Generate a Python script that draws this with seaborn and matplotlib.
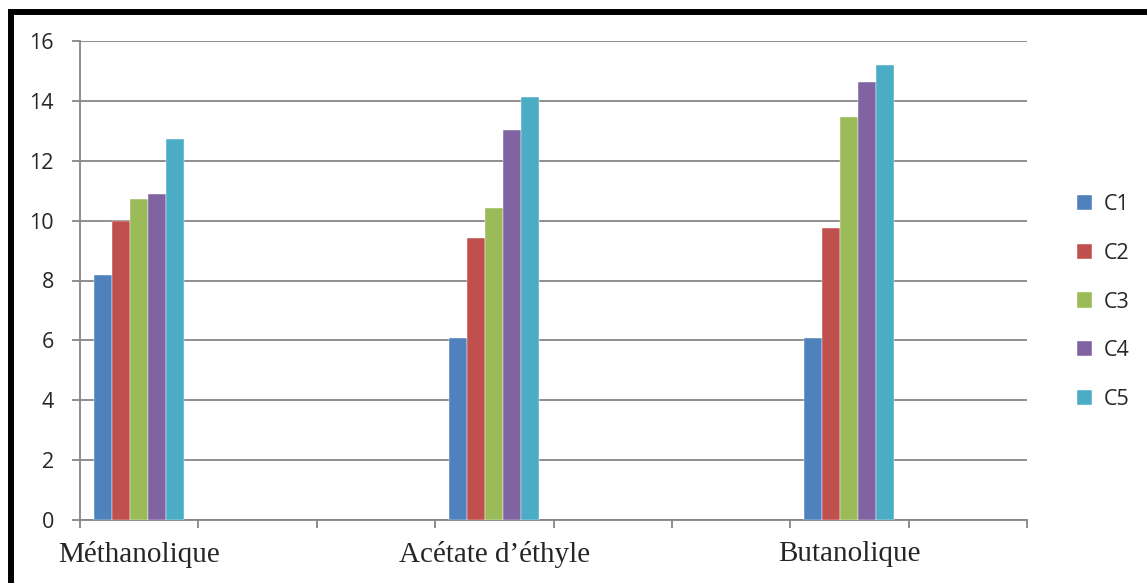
import matplotlib
matplotlib.use("Agg")
import matplotlib.pyplot as plt
from matplotlib.patches import Rectangle
import seaborn as sns
import pandas as pd
import numpy as np

# Extraits (catégories) et concentrations C1..C5
extraits = ["Méthanolique", "Acétate d’éthyle", "Butanolique"]
series = ["C1", "C2", "C3", "C4", "C5"]
methanolique = [8.18, 10.0, 10.72, 10.9, 12.71]
acetate = [6.07, 9.41, 10.41, 13.03, 14.12]
butanolique = [6.08, 9.77, 13.45, 14.64, 15.2]
couleurs = ["#4F81BD", "#C0504D", "#9BBB59", "#8064A2", "#4BACC6"]
yticks = [0, 2, 4, 6, 8, 10, 12, 14, 16]

# Excel-style axis with 8 category slots; the extracts sit in slots 0, 3 and 6
slots = [extraits[0], "_s1", "_s2", extraits[1], "_s4", "_s5", extraits[2], "_s7"]

rows = []
for ext, vals in zip(extraits, [methanolique, acetate, butanolique]):
    for s, v in zip(series, vals):
        rows.append({"extrait": ext, "serie": s, "valeur": v})
df = pd.DataFrame(rows)

sns.set_style("white")
plt.rcParams["font.family"] = ["Open Sans", "DejaVu Sans"]

fig = plt.figure(figsize=(11.47, 5.83), dpi=100)
ax = fig.add_axes([80 / 1147, 63 / 583, 947 / 1147, 479 / 583])

sns.barplot(data=df, x="extrait", y="valeur", hue="serie", order=slots,
            hue_order=series, palette=couleurs, width=0.76, dodge=True,
            errorbar=None, saturation=1, ax=ax, zorder=3,
            edgecolor="#ffffff", linewidth=0.3)

grey = "#868686"
ax.set_xlim(-0.5, len(slots) - 0.5)
ax.set_ylim(0, 16)
ax.set_yticks(yticks)
ax.set_yticklabels([str(t) for t in yticks], fontsize=15.5)
ax.yaxis.grid(True, color=grey, linewidth=1.3, zorder=0)
ax.set_axisbelow(True)
ax.tick_params(axis="y", length=5.8, width=1.3, color=grey, pad=13, left=True)

# slot boundaries as tick marks, extract names centred under their groups
ax.set_xticks(np.arange(-0.5, len(slots), 1.0))
ax.set_xticklabels([])
ax.set_xticks([0, 3, 6], minor=True)
ax.set_xticklabels(extraits, minor=True, fontsize=21,
                   family=["Liberation Serif", "DejaVu Serif"])
ax.tick_params(axis="x", which="major", length=5.8, width=1.3, color=grey,
               bottom=True)
ax.tick_params(axis="x", which="minor", length=0, pad=15, bottom=True)
ax.set_xlabel("")
ax.set_ylabel("")

for side in ["top", "right"]:
    ax.spines[side].set_visible(False)
for side in ["left", "bottom"]:
    ax.spines[side].set_color(grey)
    ax.spines[side].set_linewidth(1.3)

leg = ax.legend(loc="center left", bbox_to_anchor=(1.032, 0.455), frameon=False,
                fontsize=15.5, handlelength=0.7, handleheight=0.7,
                handletextpad=0.55, labelspacing=1.29)

# black frame around the chart
fig.patches.append(Rectangle((11 / 1147, -0.05), 1.2, (583 - 11.5) / 583 + 0.05,
                             transform=fig.transFigure, fill=False,
                             edgecolor="black", linewidth=4.3, zorder=10))

fig.savefig("out.png", dpi=100)
